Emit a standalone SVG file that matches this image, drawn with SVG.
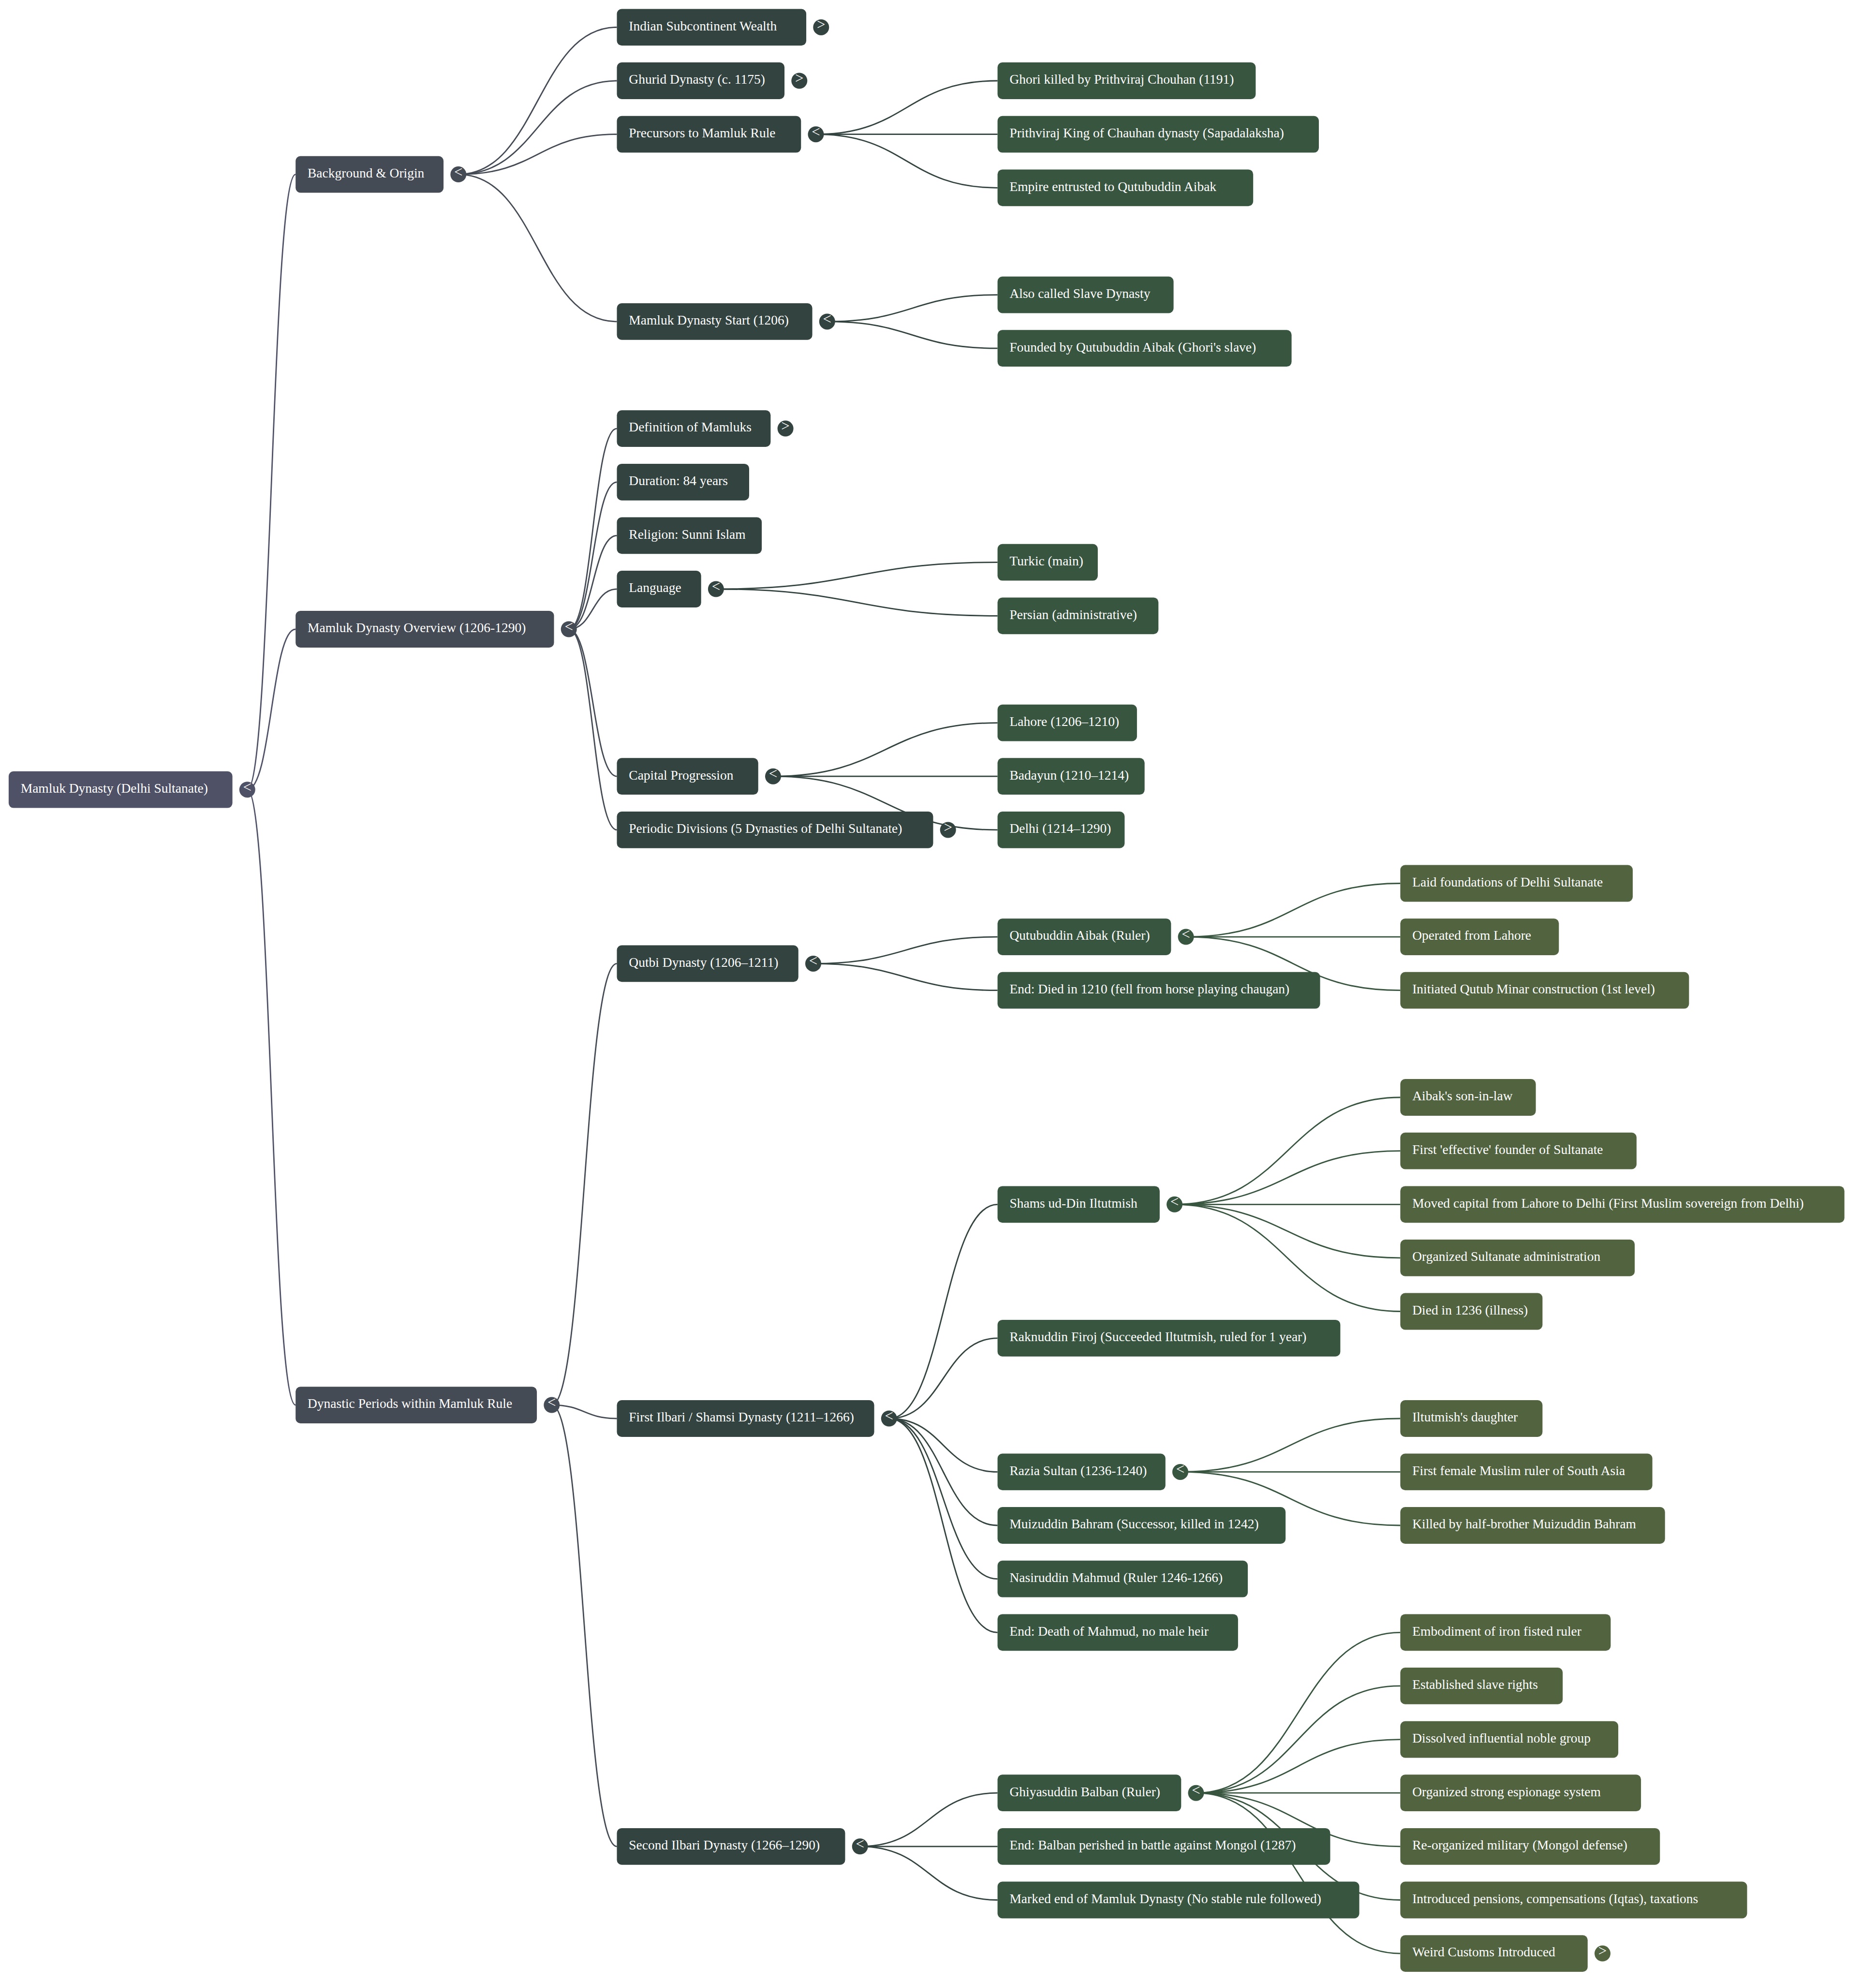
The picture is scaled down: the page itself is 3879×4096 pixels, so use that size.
<svg xmlns="http://www.w3.org/2000/svg" width="3879" height="4096" viewBox="0 0 3879 4096">
<style>
.bg{fill:#ffffff}
.n0{fill:#4f5166}.n1{fill:#454b55}.n2{fill:#33433f}.n3{fill:#38553f}.n4{fill:#51633f}
.lk{fill:none;stroke-width:2.8}
.l0{stroke:#4f5166}.l1{stroke:#454b55}.l2{stroke:#33433f}.l3{stroke:#38553f}
.t{font-family:"Liberation Serif","Times New Roman",serif;font-size:27.5px;fill:#ffffff}
.c{font-family:"Liberation Serif","Times New Roman",serif;font-size:31px;fill:#ffffff;text-anchor:middle}
</style>
<rect class="bg" x="0" y="0" width="3879" height="4096"/>
<g id="connectors">
<path class="lk l0" d="M511.3 1632.7 C561.25 1632.7 561.25 360.6 611.2 360.6"/>
<path class="lk l0" d="M511.3 1632.7 C561.25 1632.7 561.25 1301 611.2 1301"/>
<path class="lk l0" d="M511.3 1632.7 C561.25 1632.7 561.25 2905.1 611.2 2905.1"/>
<path class="lk l1" d="M947.8 360.6 C1111.65 360.6 1111.65 56.4 1275.5 56.4"/>
<path class="lk l1" d="M947.8 360.6 C1111.65 360.6 1111.65 167 1275.5 167"/>
<path class="lk l1" d="M947.8 360.6 C1111.65 360.6 1111.65 277.7 1275.5 277.7"/>
<path class="lk l1" d="M947.8 360.6 C1111.65 360.6 1111.65 664.9 1275.5 664.9"/>
<path class="lk l1" d="M1176.2 1301 C1225.85 1301 1225.85 886.1 1275.5 886.1"/>
<path class="lk l1" d="M1176.2 1301 C1225.85 1301 1225.85 996.8 1275.5 996.8"/>
<path class="lk l1" d="M1176.2 1301 C1225.85 1301 1225.85 1107.4 1275.5 1107.4"/>
<path class="lk l1" d="M1176.2 1301 C1225.85 1301 1225.85 1218 1275.5 1218"/>
<path class="lk l1" d="M1176.2 1301 C1225.85 1301 1225.85 1605.2 1275.5 1605.2"/>
<path class="lk l1" d="M1176.2 1301 C1225.85 1301 1225.85 1715.9 1275.5 1715.9"/>
<path class="lk l1" d="M1140.8 2905.1 C1208.15 2905.1 1208.15 1992.4 1275.5 1992.4"/>
<path class="lk l1" d="M1140.8 2905.1 C1208.15 2905.1 1208.15 2933 1275.5 2933"/>
<path class="lk l1" d="M1140.8 2905.1 C1208.15 2905.1 1208.15 3817.8 1275.5 3817.8"/>
<path class="lk l2" d="M1687 277.7 C1874.8 277.7 1874.8 167 2062.6 167"/>
<path class="lk l2" d="M1687 277.7 C1874.8 277.7 1874.8 277.7 2062.6 277.7"/>
<path class="lk l2" d="M1687 277.7 C1874.8 277.7 1874.8 388.3 2062.6 388.3"/>
<path class="lk l2" d="M1710.3 664.9 C1886.45 664.9 1886.45 609.6 2062.6 609.6"/>
<path class="lk l2" d="M1710.3 664.9 C1886.45 664.9 1886.45 720.2 2062.6 720.2"/>
<path class="lk l2" d="M1480.4 1218 C1771.5 1218 1771.5 1162.7 2062.6 1162.7"/>
<path class="lk l2" d="M1480.4 1218 C1771.5 1218 1771.5 1273.3 2062.6 1273.3"/>
<path class="lk l2" d="M1598.5 1605.2 C1830.55 1605.2 1830.55 1494.6 2062.6 1494.6"/>
<path class="lk l2" d="M1598.5 1605.2 C1830.55 1605.2 1830.55 1605.2 2062.6 1605.2"/>
<path class="lk l2" d="M1598.5 1605.2 C1830.55 1605.2 1830.55 1715.9 2062.6 1715.9"/>
<path class="lk l2" d="M1681.5 1992.4 C1872.05 1992.4 1872.05 1937.1 2062.6 1937.1"/>
<path class="lk l2" d="M1681.5 1992.4 C1872.05 1992.4 1872.05 2047.7 2062.6 2047.7"/>
<path class="lk l2" d="M1838.3 2933 C1950.45 2933 1950.45 2490.3 2062.6 2490.3"/>
<path class="lk l2" d="M1838.3 2933 C1950.45 2933 1950.45 2766.8 2062.6 2766.8"/>
<path class="lk l2" d="M1838.3 2933 C1950.45 2933 1950.45 3043.4 2062.6 3043.4"/>
<path class="lk l2" d="M1838.3 2933 C1950.45 2933 1950.45 3154 2062.6 3154"/>
<path class="lk l2" d="M1838.3 2933 C1950.45 2933 1950.45 3264.7 2062.6 3264.7"/>
<path class="lk l2" d="M1838.3 2933 C1950.45 2933 1950.45 3375.3 2062.6 3375.3"/>
<path class="lk l2" d="M1778.2 3817.8 C1920.4 3817.8 1920.4 3707.2 2062.6 3707.2"/>
<path class="lk l2" d="M1778.2 3817.8 C1920.4 3817.8 1920.4 3817.8 2062.6 3817.8"/>
<path class="lk l2" d="M1778.2 3817.8 C1920.4 3817.8 1920.4 3928.5 2062.6 3928.5"/>
<path class="lk l3" d="M2452.1 1937.1 C2673.75 1937.1 2673.75 1826.5 2895.4 1826.5"/>
<path class="lk l3" d="M2452.1 1937.1 C2673.75 1937.1 2673.75 1937.1 2895.4 1937.1"/>
<path class="lk l3" d="M2452.1 1937.1 C2673.75 1937.1 2673.75 2047.7 2895.4 2047.7"/>
<path class="lk l3" d="M2428.6 2490.3 C2662 2490.3 2662 2269 2895.4 2269"/>
<path class="lk l3" d="M2428.6 2490.3 C2662 2490.3 2662 2379.6 2895.4 2379.6"/>
<path class="lk l3" d="M2428.6 2490.3 C2662 2490.3 2662 2490.3 2895.4 2490.3"/>
<path class="lk l3" d="M2428.6 2490.3 C2662 2490.3 2662 2600.9 2895.4 2600.9"/>
<path class="lk l3" d="M2428.6 2490.3 C2662 2490.3 2662 2711.5 2895.4 2711.5"/>
<path class="lk l3" d="M2440.5 3043.4 C2667.95 3043.4 2667.95 2933 2895.4 2933"/>
<path class="lk l3" d="M2440.5 3043.4 C2667.95 3043.4 2667.95 3043.4 2895.4 3043.4"/>
<path class="lk l3" d="M2440.5 3043.4 C2667.95 3043.4 2667.95 3154 2895.4 3154"/>
<path class="lk l3" d="M2473 3707.2 C2684.2 3707.2 2684.2 3375.3 2895.4 3375.3"/>
<path class="lk l3" d="M2473 3707.2 C2684.2 3707.2 2684.2 3485.9 2895.4 3485.9"/>
<path class="lk l3" d="M2473 3707.2 C2684.2 3707.2 2684.2 3596.6 2895.4 3596.6"/>
<path class="lk l3" d="M2473 3707.2 C2684.2 3707.2 2684.2 3707.2 2895.4 3707.2"/>
<path class="lk l3" d="M2473 3707.2 C2684.2 3707.2 2684.2 3817.8 2895.4 3817.8"/>
<path class="lk l3" d="M2473 3707.2 C2684.2 3707.2 2684.2 3928.5 2895.4 3928.5"/>
<path class="lk l3" d="M2473 3707.2 C2684.2 3707.2 2684.2 4039.1 2895.4 4039.1"/>
</g>

<g id="node-root" transform="translate(17.9,1632.7)"><rect class="n0" x="0" y="-37.9" width="462.7" height="75.8" rx="10"/><text class="t" x="24.8" y="6.3">Mamluk Dynasty (Delhi Sultanate)</text><circle class="n0" cx="493.4" cy="0" r="16.5"/><text class="c" x="493.4" y="5">&lt;</text></g>

<g id="node-background" transform="translate(611.2,360.6)"><rect class="n1" x="0" y="-37.9" width="305.9" height="75.8" rx="10"/><text class="t" x="24.8" y="6.3">Background &amp; Origin</text><circle class="n1" cx="336.6" cy="0" r="16.5"/><text class="c" x="336.6" y="5">&lt;</text></g>
<g id="node-overview" transform="translate(611.2,1301)"><rect class="n1" x="0" y="-37.9" width="534.3" height="75.8" rx="10"/><text class="t" x="24.8" y="6.3">Mamluk Dynasty Overview (1206-1290)</text><circle class="n1" cx="565" cy="0" r="16.5"/><text class="c" x="565" y="5">&lt;</text></g>
<g id="node-dynastic" transform="translate(611.2,2905.1)"><rect class="n1" x="0" y="-37.9" width="498.9" height="75.8" rx="10"/><text class="t" x="24.8" y="6.3">Dynastic Periods within Mamluk Rule</text><circle class="n1" cx="529.6" cy="0" r="16.5"/><text class="c" x="529.6" y="5">&lt;</text></g>

<g id="node-indian" transform="translate(1275.5,56.4)"><rect class="n2" x="0" y="-37.9" width="391.6" height="75.8" rx="10"/><text class="t" x="24.8" y="6.3">Indian Subcontinent Wealth</text><circle class="n2" cx="422.3" cy="0" r="16.5"/><text class="c" x="422.3" y="5">&gt;</text></g>
<g id="node-ghurid" transform="translate(1275.5,167)"><rect class="n2" x="0" y="-37.9" width="346.6" height="75.8" rx="10"/><text class="t" x="24.8" y="6.3">Ghurid Dynasty (c. 1175)</text><circle class="n2" cx="377.3" cy="0" r="16.5"/><text class="c" x="377.3" y="5">&gt;</text></g>
<g id="node-precursors" transform="translate(1275.5,277.7)"><rect class="n2" x="0" y="-37.9" width="380.8" height="75.8" rx="10"/><text class="t" x="24.8" y="6.3">Precursors to Mamluk Rule</text><circle class="n2" cx="411.5" cy="0" r="16.5"/><text class="c" x="411.5" y="5">&lt;</text></g>
<g id="node-mamluk-start" transform="translate(1275.5,664.9)"><rect class="n2" x="0" y="-37.9" width="404.1" height="75.8" rx="10"/><text class="t" x="24.8" y="6.3">Mamluk Dynasty Start (1206)</text><circle class="n2" cx="434.8" cy="0" r="16.5"/><text class="c" x="434.8" y="5">&lt;</text></g>
<g id="node-definition" transform="translate(1275.5,886.1)"><rect class="n2" x="0" y="-37.9" width="317.9" height="75.8" rx="10"/><text class="t" x="24.8" y="6.3">Definition of Mamluks</text><circle class="n2" cx="348.6" cy="0" r="16.5"/><text class="c" x="348.6" y="5">&gt;</text></g>
<g id="node-duration" transform="translate(1275.5,996.8)"><rect class="n2" x="0" y="-37.9" width="273.5" height="75.8" rx="10"/><text class="t" x="24.8" y="6.3">Duration: 84 years</text></g>
<g id="node-religion" transform="translate(1275.5,1107.4)"><rect class="n2" x="0" y="-37.9" width="299.6" height="75.8" rx="10"/><text class="t" x="24.8" y="6.3">Religion: Sunni Islam</text></g>
<g id="node-language" transform="translate(1275.5,1218)"><rect class="n2" x="0" y="-37.9" width="174.2" height="75.8" rx="10"/><text class="t" x="24.8" y="6.3">Language</text><circle class="n2" cx="204.9" cy="0" r="16.5"/><text class="c" x="204.9" y="5">&lt;</text></g>
<g id="node-capital" transform="translate(1275.5,1605.2)"><rect class="n2" x="0" y="-37.9" width="292.3" height="75.8" rx="10"/><text class="t" x="24.8" y="6.3">Capital Progression</text><circle class="n2" cx="323" cy="0" r="16.5"/><text class="c" x="323" y="5">&lt;</text></g>
<g id="node-periodic" transform="translate(1275.5,1715.9)"><rect class="n2" x="0" y="-37.9" width="654" height="75.8" rx="10"/><text class="t" x="24.8" y="6.3">Periodic Divisions (5 Dynasties of Delhi Sultanate)</text><circle class="n2" cx="684.7" cy="0" r="16.5"/><text class="c" x="684.7" y="5">&gt;</text></g>
<g id="node-qutbi" transform="translate(1275.5,1992.4)"><rect class="n2" x="0" y="-37.9" width="375.3" height="75.8" rx="10"/><text class="t" x="24.8" y="6.3">Qutbi Dynasty (1206–1211)</text><circle class="n2" cx="406" cy="0" r="16.5"/><text class="c" x="406" y="5">&lt;</text></g>
<g id="node-first-ilbari" transform="translate(1275.5,2933)"><rect class="n2" x="0" y="-37.9" width="532.1" height="75.8" rx="10"/><text class="t" x="24.8" y="6.3">First Ilbari / Shamsi Dynasty (1211–1266)</text><circle class="n2" cx="562.8" cy="0" r="16.5"/><text class="c" x="562.8" y="5">&lt;</text></g>
<g id="node-second-ilbari" transform="translate(1275.5,3817.8)"><rect class="n2" x="0" y="-37.9" width="472" height="75.8" rx="10"/><text class="t" x="24.8" y="6.3">Second Ilbari Dynasty (1266–1290)</text><circle class="n2" cx="502.7" cy="0" r="16.5"/><text class="c" x="502.7" y="5">&lt;</text></g>

<g id="node-ghori" transform="translate(2062.6,167)"><rect class="n3" x="0" y="-37.9" width="533.8" height="75.8" rx="10"/><text class="t" x="24.8" y="6.3">Ghori killed by Prithviraj Chouhan (1191)</text></g>
<g id="node-prithviraj" transform="translate(2062.6,277.7)"><rect class="n3" x="0" y="-37.9" width="664.4" height="75.8" rx="10"/><text class="t" x="24.8" y="6.3">Prithviraj King of Chauhan dynasty (Sapadalaksha)</text></g>
<g id="node-empire" transform="translate(2062.6,388.3)"><rect class="n3" x="0" y="-37.9" width="528.6" height="75.8" rx="10"/><text class="t" x="24.8" y="6.3">Empire entrusted to Qutubuddin Aibak</text></g>
<g id="node-also-called" transform="translate(2062.6,609.6)"><rect class="n3" x="0" y="-37.9" width="364" height="75.8" rx="10"/><text class="t" x="24.8" y="6.3">Also called Slave Dynasty</text></g>
<g id="node-founded" transform="translate(2062.6,720.2)"><rect class="n3" x="0" y="-37.9" width="608" height="75.8" rx="10"/><text class="t" x="24.8" y="6.3">Founded by Qutubuddin Aibak (Ghori's slave)</text></g>
<g id="node-turkic" transform="translate(2062.6,1162.7)"><rect class="n3" x="0" y="-37.9" width="207.3" height="75.8" rx="10"/><text class="t" x="24.8" y="6.3">Turkic (main)</text></g>
<g id="node-persian" transform="translate(2062.6,1273.3)"><rect class="n3" x="0" y="-37.9" width="332.7" height="75.8" rx="10"/><text class="t" x="24.8" y="6.3">Persian (administrative)</text></g>
<g id="node-lahore" transform="translate(2062.6,1494.6)"><rect class="n3" x="0" y="-37.9" width="288.3" height="75.8" rx="10"/><text class="t" x="24.8" y="6.3">Lahore (1206–1210)</text></g>
<g id="node-badayun" transform="translate(2062.6,1605.2)"><rect class="n3" x="0" y="-37.9" width="304.1" height="75.8" rx="10"/><text class="t" x="24.8" y="6.3">Badayun (1210–1214)</text></g>
<g id="node-delhi" transform="translate(2062.6,1715.9)"><rect class="n3" x="0" y="-37.9" width="262.8" height="75.8" rx="10"/><text class="t" x="24.8" y="6.3">Delhi (1214–1290)</text></g>
<g id="node-qutubuddin" transform="translate(2062.6,1937.1)"><rect class="n3" x="0" y="-37.9" width="358.8" height="75.8" rx="10"/><text class="t" x="24.8" y="6.3">Qutubuddin Aibak (Ruler)</text><circle class="n3" cx="389.5" cy="0" r="16.5"/><text class="c" x="389.5" y="5">&lt;</text></g>
<g id="node-end-died" transform="translate(2062.6,2047.7)"><rect class="n3" x="0" y="-37.9" width="667" height="75.8" rx="10"/><text class="t" x="24.8" y="6.3">End: Died in 1210 (fell from horse playing chaugan)</text></g>
<g id="node-shams" transform="translate(2062.6,2490.3)"><rect class="n3" x="0" y="-37.9" width="335.3" height="75.8" rx="10"/><text class="t" x="24.8" y="6.3">Shams ud-Din Iltutmish</text><circle class="n3" cx="366" cy="0" r="16.5"/><text class="c" x="366" y="5">&lt;</text></g>
<g id="node-raknuddin" transform="translate(2062.6,2766.8)"><rect class="n3" x="0" y="-37.9" width="708.8" height="75.8" rx="10"/><text class="t" x="24.8" y="6.3">Raknuddin Firoj (Succeeded Iltutmish, ruled for 1 year)</text></g>
<g id="node-razia" transform="translate(2062.6,3043.4)"><rect class="n3" x="0" y="-37.9" width="347.2" height="75.8" rx="10"/><text class="t" x="24.8" y="6.3">Razia Sultan (1236-1240)</text><circle class="n3" cx="377.9" cy="0" r="16.5"/><text class="c" x="377.9" y="5">&lt;</text></g>
<g id="node-muizuddin" transform="translate(2062.6,3154)"><rect class="n3" x="0" y="-37.9" width="595.6" height="75.8" rx="10"/><text class="t" x="24.8" y="6.3">Muizuddin Bahram (Successor, killed in 1242)</text></g>
<g id="node-nasiruddin" transform="translate(2062.6,3264.7)"><rect class="n3" x="0" y="-37.9" width="517.5" height="75.8" rx="10"/><text class="t" x="24.8" y="6.3">Nasiruddin Mahmud (Ruler 1246-1266)</text></g>
<g id="node-end-death" transform="translate(2062.6,3375.3)"><rect class="n3" x="0" y="-37.9" width="497.3" height="75.8" rx="10"/><text class="t" x="24.8" y="6.3">End: Death of Mahmud, no male heir</text></g>
<g id="node-ghiyasuddin" transform="translate(2062.6,3707.2)"><rect class="n3" x="0" y="-37.9" width="379.7" height="75.8" rx="10"/><text class="t" x="24.8" y="6.3">Ghiyasuddin Balban (Ruler)</text><circle class="n3" cx="410.4" cy="0" r="16.5"/><text class="c" x="410.4" y="5">&lt;</text></g>
<g id="node-end-balban" transform="translate(2062.6,3817.8)"><rect class="n3" x="0" y="-37.9" width="687.9" height="75.8" rx="10"/><text class="t" x="24.8" y="6.3">End: Balban perished in battle against Mongol (1287)</text></g>
<g id="node-marked-end" transform="translate(2062.6,3928.5)"><rect class="n3" x="0" y="-37.9" width="748" height="75.8" rx="10"/><text class="t" x="24.8" y="6.3">Marked end of Mamluk Dynasty (No stable rule followed)</text></g>

<g id="node-laid" transform="translate(2895.4,1826.5)"><rect class="n4" x="0" y="-37.9" width="480.6" height="75.8" rx="10"/><text class="t" x="24.8" y="6.3">Laid foundations of Delhi Sultanate</text></g>
<g id="node-operated" transform="translate(2895.4,1937.1)"><rect class="n4" x="0" y="-37.9" width="327.9" height="75.8" rx="10"/><text class="t" x="24.8" y="6.3">Operated from Lahore</text></g>
<g id="node-initiated" transform="translate(2895.4,2047.7)"><rect class="n4" x="0" y="-37.9" width="597" height="75.8" rx="10"/><text class="t" x="24.8" y="6.3">Initiated Qutub Minar construction (1st level)</text></g>
<g id="node-son-in-law" transform="translate(2895.4,2269)"><rect class="n4" x="0" y="-37.9" width="280.2" height="75.8" rx="10"/><text class="t" x="24.8" y="6.3">Aibak's son-in-law</text></g>
<g id="node-first-effective" transform="translate(2895.4,2379.6)"><rect class="n4" x="0" y="-37.9" width="488.5" height="75.8" rx="10"/><text class="t" x="24.8" y="6.3">First 'effective' founder of Sultanate</text></g>
<g id="node-moved-capital" transform="translate(2895.4,2490.3)"><rect class="n4" x="0" y="-37.9" width="918.3" height="75.8" rx="10"/><text class="t" x="24.8" y="6.3">Moved capital from Lahore to Delhi (First Muslim sovereign from Delhi)</text></g>
<g id="node-organized" transform="translate(2895.4,2600.9)"><rect class="n4" x="0" y="-37.9" width="484.7" height="75.8" rx="10"/><text class="t" x="24.8" y="6.3">Organized Sultanate administration</text></g>
<g id="node-died-1236" transform="translate(2895.4,2711.5)"><rect class="n4" x="0" y="-37.9" width="294" height="75.8" rx="10"/><text class="t" x="24.8" y="6.3">Died in 1236 (illness)</text></g>
<g id="node-daughter" transform="translate(2895.4,2933)"><rect class="n4" x="0" y="-37.9" width="294" height="75.8" rx="10"/><text class="t" x="24.8" y="6.3">Iltutmish's daughter</text></g>
<g id="node-first-female" transform="translate(2895.4,3043.4)"><rect class="n4" x="0" y="-37.9" width="521.2" height="75.8" rx="10"/><text class="t" x="24.8" y="6.3">First female Muslim ruler of South Asia</text></g>
<g id="node-killed" transform="translate(2895.4,3154)"><rect class="n4" x="0" y="-37.9" width="547.3" height="75.8" rx="10"/><text class="t" x="24.8" y="6.3">Killed by half-brother Muizuddin Bahram</text></g>
<g id="node-embodiment" transform="translate(2895.4,3375.3)"><rect class="n4" x="0" y="-37.9" width="435" height="75.8" rx="10"/><text class="t" x="24.8" y="6.3">Embodiment of iron fisted ruler</text></g>
<g id="node-established" transform="translate(2895.4,3485.9)"><rect class="n4" x="0" y="-37.9" width="335.8" height="75.8" rx="10"/><text class="t" x="24.8" y="6.3">Established slave rights</text></g>
<g id="node-dissolved" transform="translate(2895.4,3596.6)"><rect class="n4" x="0" y="-37.9" width="450.7" height="75.8" rx="10"/><text class="t" x="24.8" y="6.3">Dissolved influential noble group</text></g>
<g id="node-espionage" transform="translate(2895.4,3707.2)"><rect class="n4" x="0" y="-37.9" width="497.7" height="75.8" rx="10"/><text class="t" x="24.8" y="6.3">Organized strong espionage system</text></g>
<g id="node-military" transform="translate(2895.4,3817.8)"><rect class="n4" x="0" y="-37.9" width="536.9" height="75.8" rx="10"/><text class="t" x="24.8" y="6.3">Re-organized military (Mongol defense)</text></g>
<g id="node-pensions" transform="translate(2895.4,3928.5)"><rect class="n4" x="0" y="-37.9" width="717.1" height="75.8" rx="10"/><text class="t" x="24.8" y="6.3">Introduced pensions, compensations (Iqtas), taxations</text></g>
<g id="node-weird" transform="translate(2895.4,4039.1)"><rect class="n4" x="0" y="-37.9" width="387.4" height="75.8" rx="10"/><text class="t" x="24.8" y="6.3">Weird Customs Introduced</text><circle class="n4" cx="418.1" cy="0" r="16.5"/><text class="c" x="418.1" y="5">&gt;</text></g>
</svg>
